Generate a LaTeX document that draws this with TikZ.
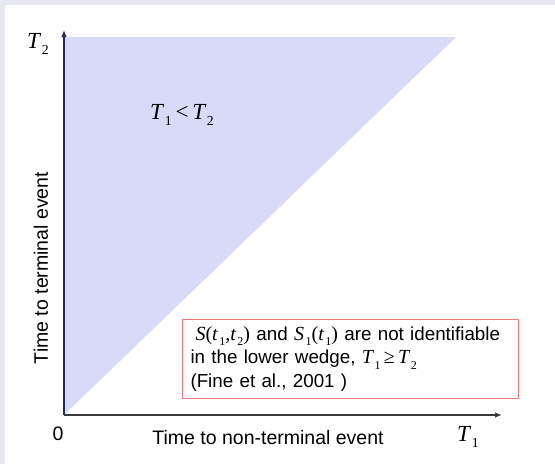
\documentclass[tikz,border=0pt]{standalone}
\usepackage{fontspec}
\usepackage{graphicx}
\setmainfont{Liberation Sans}
\newfontfamily\tms{Liberation Serif}
\usetikzlibrary{arrows.meta}
\definecolor{frame}{HTML}{E8E8F2}
\definecolor{wedge}{HTML}{D9D9F8}
\definecolor{navy}{HTML}{26265E}
\definecolor{axgray}{HTML}{3A3A3A}
\definecolor{boxred}{HTML}{F07A7A}
\newcommand\mysub[1]{\kern0.08em\raisebox{-0.5ex}{\scalebox{0.6}{\tms #1}}}
\newcommand\mvar[1]{{\tms\itshape #1}}
\tikzset{
  axislabel/.style={font=\fontsize{19.5}{23}\selectfont, inner sep=0pt},
  mathlabel/.style={font=\fontsize{23}{26}\selectfont, inner sep=0pt},
  axisline/.style={line width=1.3pt, -{Latex[length=7pt,width=5.5pt]}},
  notebox/.style={draw=boxred, line width=1pt, fill=white, anchor=north west,
    minimum width=333pt, minimum height=79pt, text width=320pt, inner xsep=8pt,
    align=left, font=\fontsize{18.8}{23.5}\selectfont}
}
\begin{document}
\begin{tikzpicture}[x=1pt,y=-1pt]
\useasboundingbox (0,0) rectangle (555,464);
\fill[frame] (0,0) rectangle (555,464);
\fill[white] (5,5) rectangle (555,464);
% wedge
\fill[wedge] (64,415) -- (64,37) -- (456,37) -- cycle;
% axes
\coordinate (O) at (64,415);
\coordinate (Ytop) at (64,30);
\coordinate (Xend) at (502,415);
\draw[axisline, navy] (O) -- (Ytop);
\draw[axisline, axgray] (O) -- (Xend);
% labels
\node[mathlabel] (t2) at (38,44) {\mvar{T}\mysub{2}};
\node[mathlabel] (t1) at (468,437) {\mvar{T}\mysub{1}};
\node[mathlabel] (rel) at (182,115) {\mvar{T}\mysub{1}\,{\tms<}\,\mvar{T}\mysub{2}};
\node[axislabel] (zero) at (58,434) {0};
\node[axislabel] (xlab) at (268,438) {Time to non-terminal event};
\node[axislabel, rotate=90] (ylab) at (41,268) {Time to terminal event};
% note
\node[notebox] (note) at (182,319) {\hspace{5pt}{\fontsize{20}{22}\selectfont\mvar{S}{\tms(}\mvar{t}\mysub{1}{\tms,}\mvar{t}\mysub{2}{\tms)}} and {\fontsize{20}{22}\selectfont\mvar{S}\mysub{1}{\tms(}\mvar{t}\mysub{1}{\tms)}} are not identifiable\\
in the lower wedge, {\fontsize{20}{22}\selectfont\mvar{T}\mysub{1}\,{\tms≥}\,\mvar{T}\mysub{2}}\\
(Fine et al., 2001 )};
\end{tikzpicture}
\end{document}
